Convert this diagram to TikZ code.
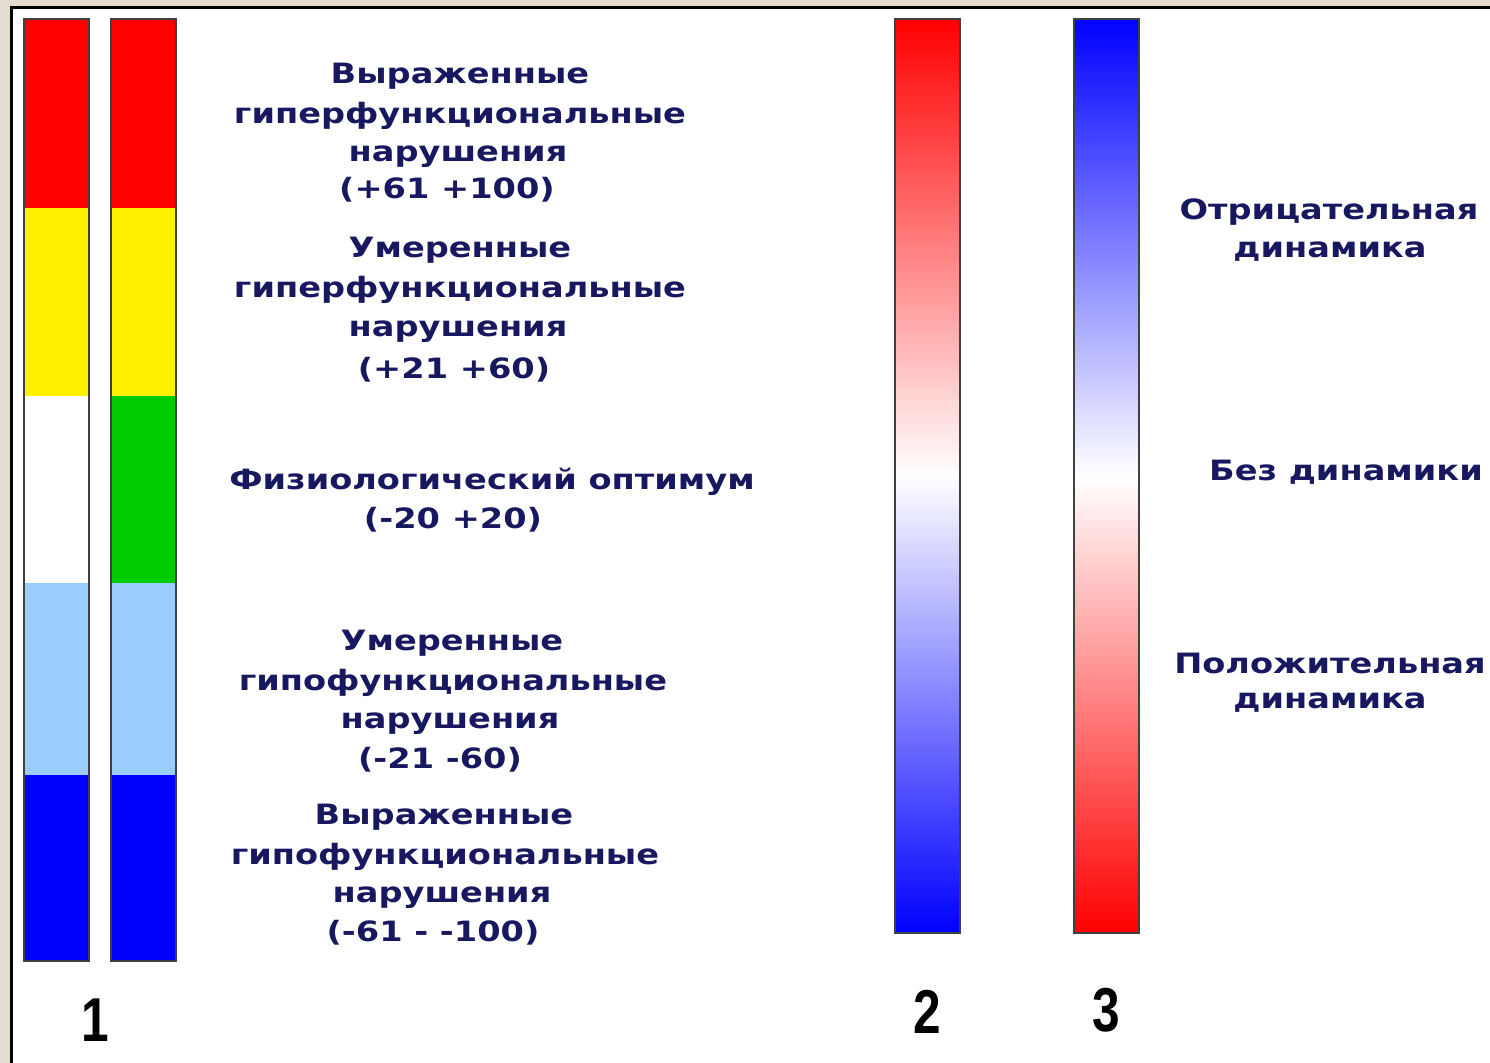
\documentclass[tikz,border=0pt]{standalone}
\usepackage{fontspec}
\setmainfont[FakeStretch=1.2]{DejaVu Sans}
\newfontfamily\numfont[FakeStretch=0.8]{Liberation Sans}
\definecolor{txtblue}{RGB}{24,24,96}
\definecolor{paper}{RGB}{228,220,206}
\definecolor{lblue}{RGB}{153,204,255}
\definecolor{bargreen}{RGB}{0,204,0}
\definecolor{barred}{RGB}{255,0,0}
\definecolor{barblue}{RGB}{0,0,255}
\begin{document}
\begin{tikzpicture}[x=0.5pt,y=-0.5pt,
    lbl/.style={font=\fontsize{14}{16}\selectfont\bfseries,text=txtblue,inner sep=0pt},
    num/.style={font=\numfont\fontsize{31}{35}\selectfont\bfseries,inner sep=0pt},
    bar/.style={draw=black!75,line width=1pt}]
  \useasboundingbox (0,0) rectangle (1490,1063);
  % frame
  \fill[paper] (0,0) rectangle (1490,1063);
  \fill[white] (11,8) rectangle (1490,1063);
  \draw[line width=1.5pt] (11,1063) -- (11,8) -- (1490,8);
  % scale 1
  \foreach \ca/\cb/\ya/\yb in {barred/barred/19/208, yellow/yellow/208/396,
      white/bargreen/396/583, lblue/lblue/583/775, barblue/barblue/775/961} {
    \fill[\ca] (24,\ya) rectangle (89,\yb);
    \fill[\cb] (111,\ya) rectangle (176,\yb);
  }
  \draw[bar] (24,19) rectangle (89,961);
  \draw[bar] (111,19) rectangle (176,961);
  % scales 2 and 3
  \shade[top color=barred,bottom color=barblue,middle color=white] (895,19) rectangle (960,933);
  \draw[bar] (895,19) rectangle (960,933);
  \shade[top color=barblue,bottom color=barred,middle color=white] (1074,19) rectangle (1139,933);
  \draw[bar] (1074,19) rectangle (1139,933);
  \node[num] (n1) at (95,1020) {1};
  \node[num] (n2) at (927,1012) {2};
  \node[num] (n3) at (1106,1010) {3};
  % labels of scale 1
  \node[lbl] (hr1) at (460,76) {Выраженные};
  \node[lbl] (hr2) at (460,116) {гиперфункциональные};
  \node[lbl] (hr3) at (458,157) {нарушения};
  \node[lbl] (hr4) at (447,190) {(+61 +100)};
  \node[lbl] (hm1) at (460,250) {Умеренные};
  \node[lbl] (hm2) at (460,290) {гиперфункциональные};
  \node[lbl] (hm3) at (458,332) {нарушения};
  \node[lbl] (hm4) at (454,370) {(+21 +60)};
  \node[lbl] (opt1) at (492,482) {Физиологический оптимум};
  \node[lbl] (opt2) at (453,520) {(-20 +20)};
  \node[lbl] (pm1) at (452,643) {Умеренные};
  \node[lbl] (pm2) at (453,683) {гипофункциональные};
  \node[lbl] (pm3) at (450,724) {нарушения};
  \node[lbl] (pm4) at (440,760) {(-21 -60)};
  \node[lbl] (pr1) at (444,817) {Выраженные};
  \node[lbl] (pr2) at (445,857) {гипофункциональные};
  \node[lbl] (pr3) at (442,898) {нарушения};
  \node[lbl] (pr4) at (433,933) {(-61 - -100)};
  % labels of scale 3
  \node[lbl] (neg1) at (1329,212) {Отрицательная};
  \node[lbl] (neg2) at (1330,252) {динамика};
  \node[lbl] (none) at (1346,472) {Без динамики};
  \node[lbl] (pos1) at (1330,663) {Положительная};
  \node[lbl] (pos2) at (1330,703) {динамика};
\end{tikzpicture}
\end{document}
